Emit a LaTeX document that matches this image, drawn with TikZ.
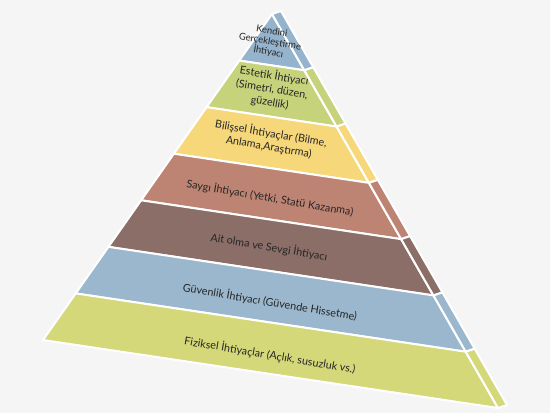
\documentclass[tikz,border=0pt]{standalone}
\usepackage{fontspec}
\setmainfont{Lato}
\usetikzlibrary{calc}
\definecolor{bgGray}{HTML}{F5F5F6}
\definecolor{layerBlue}{HTML}{95B3CC}
\definecolor{layerLime}{HTML}{C7D37B}
\definecolor{layerGold}{HTML}{F6D77A}
\definecolor{layerRose}{HTML}{BE8473}
\definecolor{layerMauve}{HTML}{8C6E68}
\definecolor{layerSky}{HTML}{9BB7CD}
\definecolor{layerOlive}{HTML}{D4D878}
\tikzset{%
  layer/.style={
    fill=#1,
    draw=white,
    line width=2pt,
    line join=round
  },
  tag/.style={
    align=center,
    rotate=-9.5,
    inner sep=0pt,
    text=black!85,
    font=\fontsize{10.8}{13.5}\selectfont
  },
}

\begin{document}
\begin{tikzpicture}[x=1pt,y=-1pt]
      \fill[bgGray] (0,0) rectangle (550,413);

      \coordinate (apex) at (272,14);
      \coordinate (left) at (43,340);
      \coordinate (right) at (498,408);
      \coordinate (backtop) at (281,11);
      \coordinate (back) at (507,405);

      \foreach \k/\col in {0/layerBlue,1/layerLime,2/layerGold,3/layerRose,4/layerMauve,5/layerSky,6/layerOlive}{
        \pgfmathsetmacro\lo{\k/7}
        \pgfmathsetmacro\hi{(\k+1)/7}
        \draw[layer=\col] ($(apex)!\lo!(left)$) -- ($(apex)!\lo!(right)$) -- ($(apex)!\hi!(right)$) -- ($(apex)!\hi!(left)$) -- cycle;
        \draw[layer=\col] ($(apex)!\lo!(right)$) -- ($(backtop)!\lo!(back)$) -- ($(backtop)!\hi!(back)$) -- ($(apex)!\hi!(right)$) -- cycle;
      }

      \node[tag, font=\fontsize{9.5}{10.5}\selectfont] (selfneed) at (270,42) {Kendini\\Gerçekleştirme\\İhtiyacı};
      \node[tag] (aesthetic) at (272,89) {Estetik İhtiyacı\\(Simetri, düzen,\\güzellik)};
      \node[tag] (cognitive) at (270,140) {Bilişsel İhtiyaçlar (Bilme,\\Anlama,Araştırma)};
      \node[tag] (esteem) at (270,198) {Saygı İhtiyacı (Yetki, Statü Kazanma)};
      \node[tag] (belonging) at (269,247) {Ait olma ve Sevgi İhtiyacı};
      \node[tag] (safety) at (270,302) {Güvenlik İhtiyacı (Güvende Hissetme)};
      \node[tag] (physical) at (270,355) {Fiziksel İhtiyaçlar (Açlık, susuzluk vs.)};
\end{tikzpicture}
\end{document}
